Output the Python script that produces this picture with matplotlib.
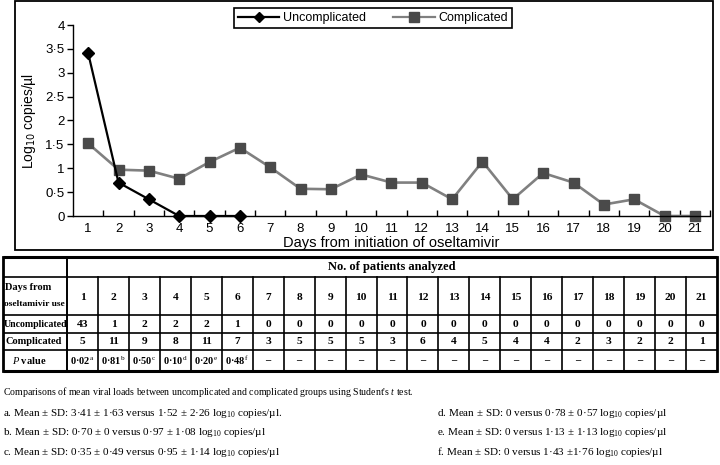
import matplotlib
matplotlib.use("Agg")
import matplotlib.pyplot as plt
from matplotlib.patches import Rectangle
from matplotlib.lines import Line2D

plt.rcParams['mathtext.fontset'] = 'custom'
plt.rcParams['mathtext.rm'] = 'Liberation Serif'
plt.rcParams['mathtext.it'] = 'Liberation Serif:italic'
plt.rcParams['mathtext.bf'] = 'Liberation Serif:bold'

# ---------------- data ----------------
days = list(range(1, 22))
uncomp_days = [1, 2, 3, 4, 5, 6]
uncomp_vals = [3.41, 0.70, 0.35, 0, 0, 0]
comp_vals = [1.52, 0.97, 0.95, 0.78, 1.13, 1.43, 1.02, 0.57, 0.56, 0.87,
             0.70, 0.70, 0.35, 1.14, 0.35, 0.90, 0.70, 0.24, 0.35, 0, 0]
yticks = [0, 0.5, 1, 1.5, 2, 2.5, 3, 3.5, 4]
ytick_labels = ['0', '0·5', '1', '1·5', '2', '2·5', '3', '3·5', '4']

n_uncomp = [43, 1, 2, 2, 2, 1] + [0] * 15
n_comp = [5, 11, 9, 8, 11, 7, 3, 5, 5, 5, 3, 6, 4, 5, 4, 4, 2, 3, 2, 2, 1]
p_vals = ['0·02', '0·81', '0·50', '0·10', '0·20', '0·48']
p_marks = ['a', 'b', 'c', 'd', 'e', 'f']

notes_left = [
    r'a. Mean ± SD: 3·41 ± 1·63 versus 1·52 ± 2·26 log$_{10}$ copies/µl.',
    r'b. Mean ± SD: 0·70 ± 0 versus 0·97 ± 1·08 log$_{10}$ copies/µl',
    r'c. Mean ± SD: 0·35 ± 0·49 versus 0·95 ± 1·14 log$_{10}$ copies/µl',
]
notes_right = [
    r'd. Mean ± SD: 0 versus 0·78 ± 0·57 log$_{10}$ copies/µl',
    r'e. Mean ± SD: 0 versus 1·13 ± 1·13 log$_{10}$ copies/µl',
    r'f. Mean ± SD: 0 versus 1·43 ±1·76 log$_{10}$ copies/µl',
]
caption = r"Comparisons of mean viral loads between uncomplicated and complicated groups using Student's $t$ test."

W, H = 720, 465
fig = plt.figure(figsize=(7.2, 4.65), dpi=100)

# overlay axes in pixel coordinates for frame, table, notes
bg = fig.add_axes([0, 0, 1, 1])
bg.set_xlim(0, W)
bg.set_ylim(H, 0)
bg.axis('off')

# chart frame
bg.add_patch(Rectangle((15, 1), 698, 249, fill=False, lw=1.3, ec='black'))

# ---------------- chart ----------------
def fx(px):
    return px / W

def fy(py):
    return 1 - py / H

ax = fig.add_axes([fx(73), fy(216), fx(710) - fx(73), fy(25) - fy(216)])
ax.patch.set_alpha(0)
sans = 'Liberation Sans'
ax.plot(days, comp_vals, color='#808080', lw=1.9, marker='s', ms=7.5,
        mfc='#4a4a4a', mec='#4a4a4a', label='Complicated', zorder=2, clip_on=False)
ax.plot(uncomp_days, uncomp_vals, color='black', lw=1.6, marker='D', ms=6,
        mfc='black', mec='black', label='Uncomplicated', zorder=3, clip_on=False)
ax.set_xlim(0.5, 21.5)
ax.set_ylim(0, 4)
for s in ['top', 'right']:
    ax.spines[s].set_visible(False)
ax.spines['left'].set_linewidth(1.0)
ax.spines['bottom'].set_linewidth(1.0)
ax.set_yticks(yticks)
ax.set_yticklabels(ytick_labels, fontfamily=sans, fontsize=9.5)
ax.set_xticks(days)
ax.set_xticklabels([str(d) for d in days], fontfamily=sans, fontsize=9.5)
ax.tick_params(axis='x', which='major', length=0, pad=5)
ax.set_xticks([d + 0.5 for d in days], minor=True)
ax.tick_params(axis='x', which='minor', direction='in', length=4, width=1)
ax.tick_params(axis='y', direction='out', length=4, width=1, pad=2)
ax.set_ylabel(r'Log$_{10}$ copies/µl', fontfamily=sans, fontsize=10, labelpad=5)
ax.yaxis.label.set_math_fontfamily('dejavusans')
ax.set_xlabel('Days from initiation of oseltamivir', fontfamily=sans, fontsize=10.5, labelpad=1)

handles = [Line2D([], [], color='black', lw=1.6, marker='D', ms=5.5),
           Line2D([], [], color='#808080', lw=1.6, marker='s', ms=6.5,
                  mfc='#4a4a4a', mec='#4a4a4a')]
leg = fig.legend(handles, ['Uncomplicated', 'Complicated'], ncol=2,
                 loc='center', bbox_to_anchor=(fx(373), fy(18)),
                 prop={'family': sans, 'size': 9}, frameon=True, fancybox=False,
                 edgecolor='black', framealpha=1, handlelength=3.3, columnspacing=2.2,
                 borderpad=0.3, handletextpad=0.3)
leg.get_frame().set_linewidth(1.2)

# ---------------- table ----------------
serif = 'Liberation Serif'
tx0, tx1 = 3, 717
col0 = 67
cw = (tx1 - col0) / 21
rows = [257, 277, 315, 333, 350, 371]
lc = 'black'
# horizontal lines
for i, y in enumerate(rows):
    lw = 2.2 if i in (0, len(rows) - 1) else 1.2
    bg.plot([tx0, tx1], [y, y], color=lc, lw=lw, solid_capstyle='butt')
# vertical lines
bg.plot([tx0, tx0], [rows[0], rows[-1]], color=lc, lw=2.0)
bg.plot([tx1, tx1], [rows[0], rows[-1]], color=lc, lw=2.0)
bg.plot([col0, col0], [rows[0], rows[-1]], color=lc, lw=1.4)
for j in range(1, 21):
    x = col0 + j * cw
    bg.plot([x, x], [rows[1], rows[-1]], color=lc, lw=1.2)

fs_t = 7.5
fs_num = 8.2
bg.text((col0 + tx1) / 2, (rows[0] + rows[1]) / 2, 'No. of patients analyzed',
        ha='center', va='center', fontfamily=serif, fontweight='bold', fontsize=9)
bg.text(tx0 + 2, rows[1] + 10, 'Days from', ha='left', va='center',
        fontfamily=serif, fontweight='bold', fontsize=fs_t)
bg.text(tx0 + 1, rows[1] + 27, 'oseltamivir use', ha='left', va='center',
        fontfamily=serif, fontweight='bold', fontsize=6.8)
bg.text(tx0 + 1, (rows[2] + rows[3]) / 2, 'Uncomplicated', ha='left', va='center',
        fontfamily=serif, fontweight='bold', fontsize=7.1)
bg.text(tx0 + 2, (rows[3] + rows[4]) / 2, 'Complicated', ha='left', va='center',
        fontfamily=serif, fontweight='bold', fontsize=fs_t)
bg.text(tx0 + 9, (rows[4] + rows[5]) / 2, r'$\mathit{P}$ value', ha='left', va='center',
        fontfamily=serif, fontweight='bold', fontsize=fs_t)

for j, d in enumerate(days):
    cx = col0 + (j + 0.5) * cw
    bg.text(cx, (rows[1] + rows[2]) / 2 + 1, str(d), ha='center', va='center',
            fontfamily=serif, fontweight='bold', fontsize=fs_num)
    bg.text(cx, (rows[2] + rows[3]) / 2, str(n_uncomp[j]), ha='center', va='center',
            fontfamily=serif, fontweight='bold', fontsize=fs_num)
    bg.text(cx, (rows[3] + rows[4]) / 2, str(n_comp[j]), ha='center', va='center',
            fontfamily=serif, fontweight='bold', fontsize=fs_num)
    if j < len(p_vals):
        s = p_vals[j] + r'$^{\mathrm{' + p_marks[j] + '}}$'
    else:
        s = '–'
    bg.text(cx, (rows[4] + rows[5]) / 2, s, ha='center', va='center',
            fontfamily=serif, fontweight='bold', fontsize=fs_t)

# ---------------- notes ----------------
bg.text(3, 392, caption, ha='left', va='center', fontfamily=serif, fontsize=7.1)
for k, (l, r) in enumerate(zip(notes_left, notes_right)):
    y = 413 + k * 19.5
    bg.text(3, y, l, ha='left', va='center', fontfamily=serif, fontsize=8)
    bg.text(437, y, r, ha='left', va='center', fontfamily=serif, fontsize=8)

fig.savefig('out.png', dpi=100)
